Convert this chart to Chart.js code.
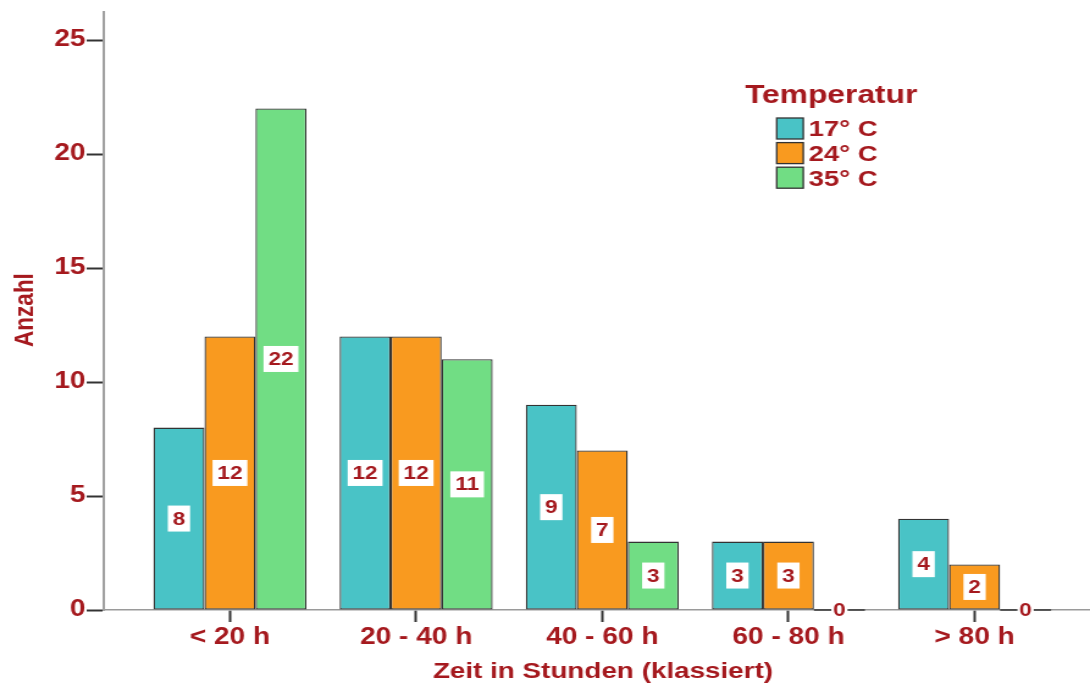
<!DOCTYPE html>
<html>
<head>
<meta charset="utf-8">
<script src="https://cdn.jsdelivr.net/npm/chart.js@4/dist/chart.umd.min.js"></script>
<style>
  html, body { margin: 0; padding: 0; background: #ffffff; }
  /* the canvas is drawn narrower and widened by CSS, giving the broad lettering */
  #c { display: block; width: 1090px !important; height: 684px !important; }
</style>
</head>
<body>
<canvas id="c" width="893" height="684" style="width:1090px;height:684px"></canvas>
<script>
// ---- data ----
const categories = ['< 20 h', '20 - 40 h', '40 - 60 h', '60 - 80 h', '> 80 h'];
const seriesNames = ['17° C', '24° C', '35° C'];
const temp17 = [8, 12, 9, 3, 4];
const temp24 = [12, 12, 7, 3, 2];
const temp35 = [22, 11, 3, 0, 0];
const yTicks = [0, 5, 10, 15, 20, 25];
const yMax = 26.23;
const xTitle = 'Zeit in Stunden (klassiert)';
const yTitle = 'Anzahl';
const legendTitle = 'Temperatur';

// ---- style ----
const colors = ['#49C3C6', '#F99A1F', '#71DD84'];
const RED = '#A5191E';
const EDGE = '#333333';
const FONT = '"Liberation Sans", Arial, Helvetica, sans-serif';

const toPoints = arr => arr.map((v, i) => ({ x: i, y: v }));
const seriesValues = [temp17, temp24, temp35];

const datasets = seriesValues.map((vals, k) => ({
  label: seriesNames[k],
  data: toPoints(vals),
  backgroundColor: colors[k],
  borderColor: EDGE,
  borderWidth: 1.3,
  borderSkipped: false,
  categoryPercentage: 0.822,
  barPercentage: 1.0
}));

// value boxes in the middle of each bar, plus the flat mark for empty bars
const barLabels = {
  id: 'barLabels',
  afterDatasetsDraw(chart) {
    const ctx = chart.ctx;
    ctx.save();
    chart.data.datasets.forEach((ds, di) => {
      const meta = chart.getDatasetMeta(di);
      meta.data.forEach((bar, i) => {
        const v = ds.data[i].y;
        const p = bar.getProps(['x', 'y', 'base', 'width'], true);
        const cy = (p.y + p.base) / 2;
        if (v === 0) {
          ctx.strokeStyle = EDGE;
          ctx.lineWidth = 1.5;
          ctx.beginPath();
          ctx.moveTo(p.x - p.width / 2, p.base);
          ctx.lineTo(p.x + p.width / 2, p.base);
          ctx.stroke();
        }
        ctx.font = 'bold 18.5px ' + FONT;
        const txt = String(v);
        const tw = ctx.measureText(txt).width;
        const bw = tw + (v === 0 ? 3 : 8), bh = 26;
        ctx.fillStyle = '#ffffff';
        ctx.fillRect(p.x - bw / 2, cy - bh / 2, bw, bh);
        ctx.fillStyle = RED;
        ctx.textAlign = 'center';
        ctx.textBaseline = 'middle';
        ctx.fillText(txt, p.x, cy + 1);
      });
    });
    ctx.restore();
  }
};

// axis titles and the legend block
const decorations = {
  id: 'decorations',
  afterDraw(chart) {
    const ctx = chart.ctx;
    ctx.save();
    ctx.fillStyle = RED;

    // x axis title
    ctx.font = 'bold 22.8px ' + FONT;
    ctx.textAlign = 'center';
    ctx.textBaseline = 'alphabetic';
    ctx.fillText(xTitle, 494, 677.5);

    // y axis title
    ctx.save();
    ctx.translate(27, 310);
    ctx.rotate(-Math.PI / 2);
    ctx.font = 'bold 22.5px ' + FONT;
    ctx.textAlign = 'center';
    ctx.textBaseline = 'alphabetic';
    ctx.fillText(yTitle, 0, 0);
    ctx.restore();

    // legend
    ctx.textAlign = 'left';
    ctx.textBaseline = 'alphabetic';
    ctx.font = 'bold 26px ' + FONT;
    ctx.fillStyle = RED;
    ctx.fillText(legendTitle, 610.4, 103.3);

    chart.data.datasets.forEach((ds, k) => {
      const top = 118 + 24.6 * k;
      ctx.fillStyle = ds.backgroundColor;
      ctx.fillRect(636.3, top, 21.8, 21);
      ctx.strokeStyle = EDGE;
      ctx.lineWidth = 1.3;
      ctx.strokeRect(636.3, top, 21.8, 21);
      ctx.fillStyle = RED;
      ctx.font = 'bold 22.5px ' + FONT;
      ctx.fillText(ds.label, 662.5, 135.5 + 25.3 * k);
    });
    ctx.restore();
  }
};

new Chart(document.getElementById('c'), {
  type: 'bar',
  data: { datasets },
  plugins: [barLabels, decorations],
  options: {
    responsive: false,
    animation: false,
    devicePixelRatio: 1,
    layout: { padding: { top: 12, right: 0, bottom: 0, left: 0 } },
    plugins: {
      legend: { display: false },
      tooltip: { enabled: false },
      title: { display: false }
    },
    scales: {
      x: {
        type: 'linear',
        offset: false,
        min: -0.678,
        max: 4.62,
        afterBuildTicks: s => { s.ticks = categories.map((_, i) => ({ value: i })); },
        afterFit: s => { s.height = 74; },
        ticks: {
          autoSkip: false,
          maxRotation: 0,
          padding: 2,
          color: RED,
          font: { family: FONT, size: 23, weight: 'bold' },
          callback: (v, i) => categories[i]
        },
        grid: {
          display: true,
          offset: false,
          drawOnChartArea: false,
          drawTicks: true,
          tickLength: 12,
          tickColor: EDGE,
          tickWidth: 2
        },
        border: { display: true, color: '#9a9a9a', width: 1.5 }
      },
      y: {
        type: 'linear',
        min: 0,
        max: yMax,
        afterBuildTicks: s => { s.ticks = yTicks.map(v => ({ value: v })); },
        afterFit: s => { s.width = 85; s.paddingTop = 0; },
        ticks: {
          padding: 1,
          color: RED,
          font: { family: FONT, size: 23, weight: 'bold', lineHeight: 1.0 }
        },
        grid: {
          display: true,
          drawOnChartArea: false,
          drawTicks: true,
          tickLength: 14,
          tickColor: EDGE,
          tickWidth: 2
        },
        border: { display: true, color: '#a0a0a0', width: 2 }
      }
    }
  }
});
</script>
</body>
</html>
